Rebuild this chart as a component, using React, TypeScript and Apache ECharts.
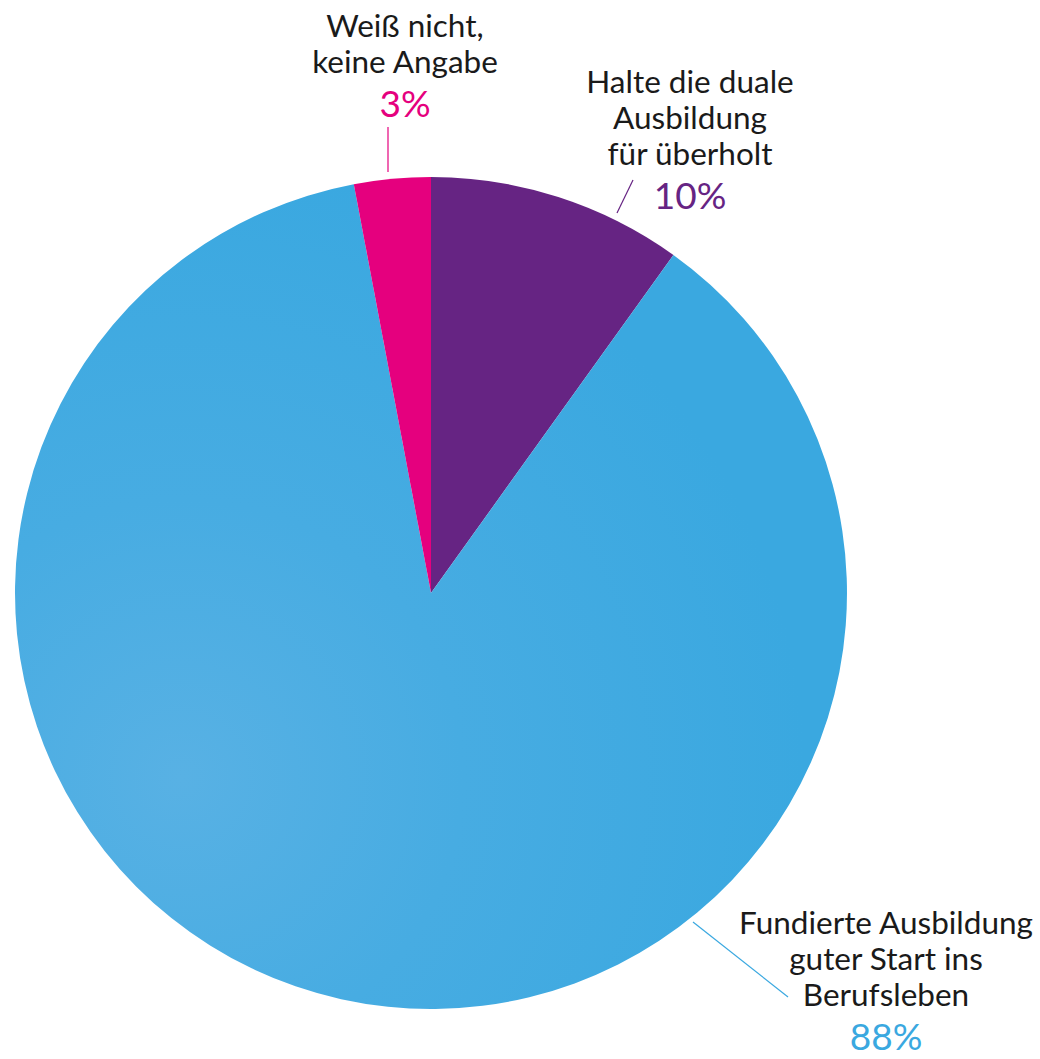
import React, { useEffect, useRef } from "react";
import * as echarts from "echarts";

const categories: string[] = [
  "Halte die duale\nAusbildung\nfür überholt",
  "Fundierte Ausbildung\nguter Start ins\nBerufsleben",
  "Weiß nicht,\nkeine Angabe",
];
const values: number[] = [10, 88, 3];
const colors: string[] = ["#662483", "#3AA8E0", "#E5007E"];

export default function App() {
  const ref = useRef<HTMLDivElement>(null);
  useEffect(() => {
    if (!ref.current) return;
    const chart = echarts.init(ref.current, null, { renderer: "svg" });
    const font = "Lato, 'Open Sans', sans-serif";
    const labelPos = [
      { x: 690, y: 63, line: [[617, 213], [633, 180]] },
      { x: 886, y: 904, line: [[693, 922], [788, 997]] },
      { x: 405, y: 7, line: [[388, 127], [388, 172]] },
    ];
    const graphics: any[] = [];
    categories.forEach((name, i) => {
      const lines = name.split("\n").map((l) => `{n|${l}}`);
      graphics.push({
        type: "text",
        x: labelPos[i].x,
        y: labelPos[i].y,
        style: {
          text: lines.join("\n") + `\n{p|${values[i]}%}`,
          align: "center",
          verticalAlign: "top",
          rich: {
            n: { fontFamily: font, fontSize: 31.5, lineHeight: 36, fill: "#1a1a1a" },
            p: { fontFamily: font, fontSize: 37, lineHeight: 47, fill: colors[i], align: "center" },
          },
        },
      });
      graphics.push({
        type: "line",
        shape: {
          x1: labelPos[i].line[0][0],
          y1: labelPos[i].line[0][1],
          x2: labelPos[i].line[1][0],
          y2: labelPos[i].line[1][1],
        },
        style: { stroke: colors[i], lineWidth: 1.2 },
      });
    });
    chart.setOption({
      animation: false,
      backgroundColor: "#ffffff",
      series: [
        {
          type: "pie",
          center: [431, 593],
          radius: 416,
          startAngle: 90,
          clockwise: true,
          label: { show: false },
          labelLine: { show: false },
          silent: true,
          data: categories.map((c, i) => ({
            name: c,
            value: values[i],
            itemStyle: {
              color:
                i === 1
                  ? {
                      type: "radial",
                      x: 0.2,
                      y: 0.72,
                      r: 0.75,
                      colorStops: [
                        { offset: 0, color: "#58B1E4" },
                        { offset: 0.45, color: "#47ACE2" },
                        { offset: 1, color: "#3AA8E0" },
                      ],
                    }
                  : colors[i],
            },
          })),
        },
      ],
      graphic: graphics,
    });
    return () => chart.dispose();
  }, []);
  return <div ref={ref} style={{ width: 1040, height: 1059, position: "absolute", left: 0, top: 0 }} />;
}
